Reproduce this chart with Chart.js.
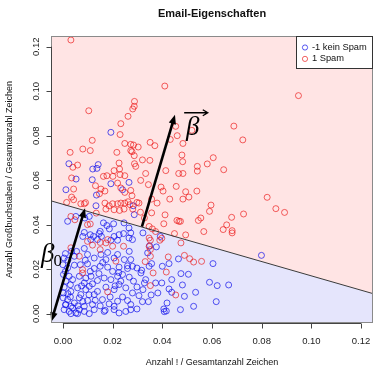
<!DOCTYPE html>
<html>
<head>
<meta charset="utf-8">
<script src="https://cdn.jsdelivr.net/npm/chart.js@4/dist/chart.umd.min.js"></script>
<style>
  html, body { margin: 0; padding: 0; background: #fff; }
  canvas { display: block; }
</style>
</head>
<body>
<canvas id="grafico" width="373" height="367"></canvas>
<script>
// Daten

// 1 Spam (rot)
const spamX = [
  0.0032,0.0410,0.0288,0.0287,0.0281,0.0104,0.0262,0.0233,0.0230,0.0118,0.0454,0.0460,0.0519,0.0483,0.0432,0.0249,0.0273,0.0284,0.0303,0.0351,0.0370,0.0273,0.0278,0.0287,0.0217,0.0080,0.0110,0.0029,0.0320,0.0350,0.0226,0.0288,0.0293,0.0414,0.0479,0.0482,0.0541,0.0541,0.0581,0.0605,0.0059,0.0040,0.0228,0.0206,0.0333,0.0466,0.0483,
  0.0948,0.0688,0.0724,0.0647,
  0.0035,0.0043,0.0163,0.0177,0.0201,0.0230,0.0249,0.0131,0.0153,0.0147,0.0169,0.0220,0.0233,0.0249,0.0273,0.0278,0.0262,0.0035,0.0043,0.0015,0.0072,0.0086,0.0091,0.0169,0.0186,0.0200,0.0220,0.0233,0.0249,0.0270,0.0206,0.0228,0.0246,0.0281,0.0173,0.0134,0.0032,0.0048,0.0099,0.0110,0.0099,0.0180,0.0173,0.0150,
  0.0313,0.0344,0.0456,0.0395,0.0403,0.0494,0.0539,0.0298,0.0306,0.0357,0.0379,0.0430,0.0483,0.0507,0.0596,0.0590,0.0312,0.0357,0.0411,0.0459,0.0467,0.0473,0.0555,0.0545,0.0406,0.0328,0.0347,0.0360,0.0373,0.0449,0.0494,0.0567,0.0347,0.0352,0.0398,0.0390,0.0475,
  0.0822,0.0857,0.0892,0.0727,0.0679,0.0659,0.0645,0.0681,0.0681,
  0.0424,0.0489,0.0510,0.0526,0.0558,0.0352,0.0352,0.0331,0.0363,0.0416,0.0454,0.0352,0.0347,
  0.0032,0.0066,0.0119,0.0150,0.0200,0.0244,0.0213,0.0079,0.0079,0.0180
];
const spamY = [
  0.1230,0.1023,0.0954,0.0932,0.0920,0.0912,0.0887,0.0854,0.0805,0.0779,0.0842,0.0800,0.0824,0.0765,0.0783,0.0765,0.0761,0.0758,0.0749,0.0770,0.0755,0.0733,0.0728,0.0710,0.0725,0.0740,0.0733,0.0725,0.0691,0.0689,0.0677,0.0674,0.0662,0.0643,0.0713,0.0683,0.0662,0.0641,0.0673,0.0701,0.0668,0.0658,0.0650,0.0643,0.0630,0.0630,0.0630,
  0.0980,0.0843,0.0781,0.0647,
  0.0610,0.0560,0.0617,0.0620,0.0617,0.0625,0.0620,0.0575,0.0560,0.0539,0.0551,0.0587,0.0565,0.0545,0.0554,0.0530,0.0503,0.0524,0.0512,0.0500,0.0494,0.0494,0.0499,0.0497,0.0485,0.0494,0.0494,0.0497,0.0497,0.0490,0.0467,0.0464,0.0470,0.0470,0.0470,0.0452,0.0437,0.0422,0.0400,0.0403,0.0325,0.0333,0.0318,0.0320,
  0.0599,0.0580,0.0572,0.0569,0.0551,0.0548,0.0551,0.0500,0.0497,0.0515,0.0497,0.0515,0.0515,0.0524,0.0488,0.0460,0.0456,0.0453,0.0444,0.0419,0.0415,0.0415,0.0430,0.0419,0.0404,0.0430,0.0392,0.0381,0.0369,0.0360,0.0354,0.0369,0.0340,0.0330,0.0339,0.0330,0.0318,
  0.0523,0.0472,0.0455,0.0448,0.0433,0.0399,0.0378,0.0373,0.0363,
  0.0255,0.0262,0.0247,0.0232,0.0235,0.0288,0.0258,0.0234,0.0183,0.0187,0.0084,0.0126,0.0302,
  0.0296,0.0258,0.0308,0.0288,0.0303,0.0303,0.0236,0.0198,0.0183,0.0098
];

// -1 kein Spam (blau)
const hamX = [
  0.0193,0.0024,0.0142,0.0120,0.0137,
  0.0053,0.0012,0.0118,0.0193,0.0266,0.0133,0.0019,0.0106,0.0088,0.0163,0.0177,0.0187,0.0204,0.0086,0.0080,0.0150,0.0146,0.0155,0.0110,0.0123,0.0112,0.0139,0.0206,0.0226,0.0244,0.0193,0.0220,0.0266,0.0280,0.0246,0.0266,0.0273,
  0.0135,0.0240,0.0283,0.0287,0.0052,
  0.0322,0.0392,
  0.0349,0.0376,0.0341,0.0400,0.0427,0.0465,0.0298,0.0317,0.0347,0.0357,0.0604,0.0475,0.0505,0.0438,0.0590,0.0621,0.0328,0.0398,0.0373,0.0481,0.0427,0.0438,0.0534,0.0489,0.0298,0.0322,0.0306,0.0382,0.0355,0.0320,0.0344,0.0419,0.0526,0.0617,0.0406,0.0416,0.0408,0.0473,0.0298,0.0314,0.0333,
  0.0799,0.0667,
  0.0005,0.0035,0.0046,0.0086,0.0099,0.0126,0.0153,0.0173,0.0206,0.0220,0.0247,0.0273,0.0267,
  0.0000,0.0019,0.0046,0.0070,0.0099,0.0126,0.0150,0.0180,0.0200,0.0226,0.0260,0.0280,
  0.0002,0.0025,0.0039,0.0066,0.0092,0.0113,0.0139,0.0166,0.0193,0.0220,0.0240,0.0267,0.0284,0.0012,0.0086,0.0119,0.0233,
  0.0005,0.0032,0.0059,0.0092,0.0106,0.0139,0.0173,0.0206,0.0226,0.0253,0.0280,0.0002,0.0072,0.0126,
  0.0001,0.0019,0.0046,0.0066,0.0099,0.0119,0.0159,0.0186,0.0220,0.0260,0.0273,0.0012,0.0086,0.0032,0.0206,
  0.0005,0.0025,0.0039,0.0052,0.0066,0.0086,0.0106,0.0126,0.0166,0.0206,0.0226,0.0253,0.0273,0.0032,0.0059,
  0.0010,0.0020,0.0010,0.0030,0.0020,0.0010,0.0030,0.0060,0.0080,0.0105,0.0130,0.0150,0.0170,0.0190,0.0110,0.0160,0.0055,0.0090,0.0210,0.0240,0.0075,0.0145,0.0180,0.0225,0.0260
];
const hamY = [
  0.0815,0.0674,0.0670,0.0650,0.0653,
  0.0605,0.0557,0.0602,0.0584,0.0590,0.0485,0.0415,0.0437,0.0430,0.0408,0.0396,0.0381,0.0404,0.0365,0.0347,0.0370,0.0360,0.0347,0.0355,0.0347,0.0333,0.0333,0.0347,0.0355,0.0360,0.0330,0.0330,0.0340,0.0333,0.0408,0.0385,0.0363,
  0.0533,0.0557,0.0485,0.0445,0.0437,
  0.0363,0.0347,
  0.0305,0.0300,0.0273,0.0213,0.0225,0.0246,0.0205,0.0195,0.0213,0.0225,0.0225,0.0180,0.0177,0.0153,0.0141,0.0126,0.0138,0.0138,0.0138,0.0129,0.0111,0.0096,0.0096,0.0078,0.0120,0.0108,0.0081,0.0093,0.0084,0.0054,0.0054,0.0048,0.0033,0.0054,0.0021,0.0012,0.0009,0.0018,0.0021,0.0183,0.0153,
  0.0262,0.0129,
  0.0250,0.0280,0.0258,0.0293,0.0266,0.0250,0.0266,0.0243,0.0250,0.0266,0.0243,0.0243,0.0280,
  0.0220,0.0206,0.0218,0.0220,0.0224,0.0203,0.0213,0.0209,0.0190,0.0209,0.0203,0.0213,
  0.0176,0.0168,0.0153,0.0168,0.0160,0.0168,0.0149,0.0160,0.0153,0.0168,0.0176,0.0164,0.0146,0.0146,0.0138,0.0134,0.0146,
  0.0119,0.0100,0.0116,0.0108,0.0123,0.0100,0.0119,0.0108,0.0131,0.0116,0.0093,0.0093,0.0086,0.0086,
  0.0071,0.0063,0.0048,0.0071,0.0059,0.0041,0.0063,0.0044,0.0056,0.0059,0.0041,0.0041,0.0033,0.0033,0.0033,
  0.0018,0.0010,0.0026,0.0003,0.0018,0.0010,0.0000,0.0018,0.0010,0.0018,0.0003,0.0010,0.0018,0.0000,0.0000,
  0.0270,0.0240,0.0190,0.0130,0.0090,0.0040,0.0075,0.0035,0.0055,0.0085,0.0060,0.0035,0.0015,0.0075,0.0190,0.0230,0.0280,0.0240,0.0125,0.0075,0.0125,0.0180,0.0275,0.0185,0.0215
];

// Trennlinie (Werte am linken und rechten Rand)
const linieX = [-0.0048, 0.1248];
const linieY = [0.0507, 0.0090];

// Achsen
const xTicks = [0, 0.02, 0.04, 0.06, 0.08, 0.10, 0.12];
const yTicks = [0, 0.02, 0.04, 0.06, 0.08, 0.10, 0.12];
const xBereich = [-0.0048, 0.1248];
const yBereich = [-0.0042, 0.1248];

// Pfeile und Beschriftungen (Datenkoordinaten)
const beta0Pfeil = [[-0.0047, -0.0036], [0.0089, 0.0474]];
const betaPfeil = [[0.0318, 0.0391], [0.0451, 0.0894]];
const beta0Text = [-0.0088, 0.0233];
const betaText = [0.0495, 0.0803];
const betaVektor = [[0.0488, 0.0903], [0.0583, 0.0903]];

const legende = [
  { text: '-1 kein Spam', farbe: 'rgba(10,10,235,0.68)' },
  { text: '1 Spam', farbe: 'rgba(235,20,20,0.66)' }
];

// Hilfsfunktionen

function punkte(xs, ys) {
  const n = Math.min(xs.length, ys.length);
  const res = [];
  for (let i = 0; i < n; i++) res.push({ x: xs[i], y: ys[i] });
  return res;
}

function zahl(v) {
  return v.toFixed(2);
}

function kopf(ctx, x1, y1, x2, y2) {
  const w = Math.atan2(y2 - y1, x2 - x1);
  const l = 10, b = 0.38;
  ctx.beginPath();
  ctx.moveTo(x2, y2);
  ctx.lineTo(x2 - l * Math.cos(w - b), y2 - l * Math.sin(w - b));
  ctx.lineTo(x2 - l * Math.cos(w + b), y2 - l * Math.sin(w + b));
  ctx.closePath();
  ctx.fill();
}

function pfeil(ctx, x1, y1, x2, y2, beide) {
  const w = Math.atan2(y2 - y1, x2 - x1);
  const k = 6;
  const sx = beide ? x1 + k * Math.cos(w) : x1, sy = beide ? y1 + k * Math.sin(w) : y1;
  ctx.beginPath();
  ctx.moveTo(sx, sy);
  ctx.lineTo(x2 - k * Math.cos(w), y2 - k * Math.sin(w));
  ctx.stroke();
  kopf(ctx, x1, y1, x2, y2);
  if (beide) kopf(ctx, x2, y2, x1, y1);
}

// Plugin: Achsen, Rahmen, Pfeile, Legende

const deko = {
  id: 'deko',
  afterDatasetsDraw(chart) {
    const { ctx, scales: { x, y } } = chart;
    ctx.save();
    ctx.strokeStyle = '#000';
    ctx.fillStyle = '#000';
    ctx.lineWidth = 2.6;
    ctx.lineCap = 'butt';
    pfeil(ctx,
      x.getPixelForValue(beta0Pfeil[0][0]), y.getPixelForValue(beta0Pfeil[0][1]),
      x.getPixelForValue(beta0Pfeil[1][0]), y.getPixelForValue(beta0Pfeil[1][1]), true);
    pfeil(ctx,
      x.getPixelForValue(betaPfeil[0][0]), y.getPixelForValue(betaPfeil[0][1]),
      x.getPixelForValue(betaPfeil[1][0]), y.getPixelForValue(betaPfeil[1][1]), false);

    // Beschriftung beta_0
    ctx.textAlign = 'left';
    ctx.textBaseline = 'alphabetic';
    let bx = x.getPixelForValue(beta0Text[0]), by = y.getPixelForValue(beta0Text[1]);
    ctx.font = 'italic 27px "Liberation Serif"';
    ctx.fillText('β', bx, by);
    ctx.font = '17px "Liberation Serif"';
    ctx.fillText('0', bx + 12.5, by + 4);

    // Beschriftung beta mit Vektorpfeil
    bx = x.getPixelForValue(betaText[0]); by = y.getPixelForValue(betaText[1]);
    ctx.font = 'italic 27px "Liberation Serif"';
    ctx.fillText('β', bx, by);
    const vx1 = x.getPixelForValue(betaVektor[0][0]), vx2 = x.getPixelForValue(betaVektor[1][0]);
    const vy = y.getPixelForValue(betaVektor[0][1]);
    ctx.lineWidth = 1.3;
    ctx.beginPath();
    ctx.moveTo(vx1, vy); ctx.lineTo(vx2, vy);
    ctx.moveTo(vx2 - 5, vy - 3); ctx.lineTo(vx2, vy); ctx.lineTo(vx2 - 5, vy + 3);
    ctx.stroke();
    ctx.restore();
  },
  afterDraw(chart) {
    const { ctx, chartArea: a, scales: { x, y } } = chart;
    ctx.save();

    // Rahmen
    ctx.strokeStyle = '#8a8a8a';
    ctx.lineWidth = 1;
    ctx.strokeRect(a.left + 0.5, a.top + 0.5, a.right - a.left - 1, a.bottom - a.top - 1);

    // x-Achse
    ctx.strokeStyle = '#444';
    ctx.fillStyle = '#222';
    ctx.font = '9.5px "Liberation Sans"';
    const ax = a.bottom + 0.5;
    ctx.beginPath();
    ctx.moveTo(x.getPixelForValue(xTicks[0]), ax);
    ctx.lineTo(x.getPixelForValue(xTicks[xTicks.length - 1]), ax);
    for (const t of xTicks) {
      const px = Math.round(x.getPixelForValue(t)) + 0.5;
      ctx.moveTo(px, ax); ctx.lineTo(px, ax + 5);
    }
    ctx.stroke();
    ctx.textAlign = 'center';
    ctx.textBaseline = 'middle';
    for (const t of xTicks) ctx.fillText(zahl(t), x.getPixelForValue(t), a.bottom + 18);

    // y-Achse
    const ay = a.left + 0.5;
    ctx.beginPath();
    ctx.moveTo(ay, y.getPixelForValue(yTicks[0]));
    ctx.lineTo(ay, y.getPixelForValue(yTicks[yTicks.length - 1]));
    for (const t of yTicks) {
      const py = Math.round(y.getPixelForValue(t)) + 0.5;
      ctx.moveTo(ay, py); ctx.lineTo(ay - 5, py);
    }
    ctx.stroke();
    for (const t of yTicks) {
      ctx.save();
      ctx.translate(a.left - 15, y.getPixelForValue(t));
      ctx.rotate(-Math.PI / 2);
      ctx.fillText(zahl(t), 0, 0);
      ctx.restore();
    }

    // Achsentitel
    ctx.fillStyle = '#111';
    ctx.font = '9px "Liberation Sans"';
    ctx.fillText('Anzahl ! / Gesamtanzahl Zeichen', (a.left + a.right) / 2, a.bottom + 40);
    ctx.save();
    ctx.translate(9.5, (a.top + a.bottom) / 2);
    ctx.rotate(-Math.PI / 2);
    ctx.fillText('Anzahl Großbuchstaben / Gesamtanzahl Zeichen', 0, 0);
    ctx.restore();

    // Legende
    const lw = 77, lh = 33;
    const lx = a.right - lw, ly = a.top;
    ctx.fillStyle = '#fff';
    ctx.fillRect(lx, ly, lw, lh);
    ctx.strokeStyle = '#333';
    ctx.strokeRect(lx + 0.5, ly + 0.5, lw - 1, lh - 1);
    ctx.font = '9.3px "Liberation Sans"';
    ctx.textAlign = 'left';
    legende.forEach((e, i) => {
      const ry = ly + 11.5 + i * 11.4;
      ctx.strokeStyle = e.farbe;
      ctx.beginPath();
      ctx.arc(lx + 9, ry, 2.6, 0, Math.PI * 2);
      ctx.stroke();
      ctx.fillStyle = '#111';
      ctx.fillText(e.text, lx + 16, ry);
    });
    ctx.restore();
  }
};

// Diagramm

const ctx = document.getElementById('grafico').getContext('2d');
const linie = punkte(linieX, linieY);

new Chart(ctx, {
  type: 'scatter',
  data: {
    datasets: [
      {
        type: 'line',
        data: linie,
        borderColor: '#3a3a3a',
        borderWidth: 1,
        pointRadius: 0,
        fill: 'start',
        backgroundColor: 'rgb(229,229,252)',
        order: 0
      },
      {
        type: 'line',
        data: linie,
        borderWidth: 0,
        borderColor: 'rgba(0,0,0,0)',
        pointRadius: 0,
        fill: 'end',
        backgroundColor: 'rgb(255,228,228)',
        order: 3
      },
      {
        label: '-1 kein Spam',
        data: punkte(hamX, hamY),
        borderColor: legende[0].farbe,
        backgroundColor: 'rgba(0,0,0,0)',
        borderWidth: 1,
        pointRadius: 3,
        order: 2
      },
      {
        label: '1 Spam',
        data: punkte(spamX, spamY),
        borderColor: legende[1].farbe,
        backgroundColor: 'rgba(0,0,0,0)',
        borderWidth: 1,
        pointRadius: 3,
        order: 1
      }
    ]
  },
  options: {
    responsive: false,
    animation: false,
    events: [],
    layout: { padding: { left: 51, right: 0, top: 0, bottom: 44 }, autoPadding: false },
    scales: {
      x: { type: 'linear', min: xBereich[0], max: xBereich[1], display: false },
      y: { type: 'linear', min: yBereich[0], max: yBereich[1], display: false }
    },
    plugins: {
      filler: { drawTime: 'beforeDatasetsDraw' },
      legend: { display: false },
      tooltip: { enabled: false },
      title: {
        display: true,
        text: 'Email-Eigenschaften',
        fullSize: false,
        color: '#111',
        font: { family: 'Liberation Sans', size: 11, weight: 'bold', lineHeight: 1.2 },
        padding: { top: 7, bottom: 15.8 }
      }
    }
  },
  plugins: [deko]
});
</script>
</body>
</html>
